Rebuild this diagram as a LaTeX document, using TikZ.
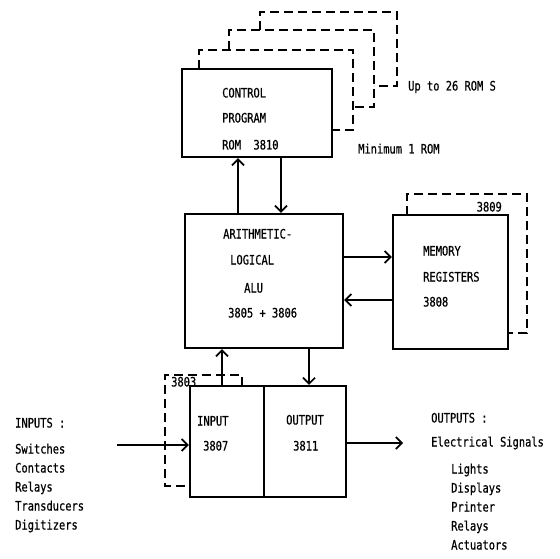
\documentclass[tikz,border=0pt]{standalone}
\usepackage{fontspec}
\setmonofont[FakeStretch=0.8, FakeBold=0.6]{DejaVu Sans Mono}
\usetikzlibrary{arrows.meta}
\tikzset{
  block/.style = {draw, line width = 2.2pt, inner sep = 0pt},
  lbl/.style = {anchor = base west, inner sep = 0pt, font = \ttfamily\fontsize{13}{15}\selectfont},
  arr/.style = {line width = 1.4pt, -{Straight Barb[length = 6pt, width = 12pt, line width = 1.7pt]}},
  copyline/.style = {line width = 1.4pt, dash pattern = on 9pt off 5pt}
}
\begin{document}
\begin{tikzpicture}[x = 1pt, y = -1pt]
                \useasboundingbox (0, 0) rectangle (560, 559);

                % blocks
                \node[block, minimum width = 150pt, minimum height = 88pt] (rom) at (257, 113) {};
                \node[block, minimum width = 158pt, minimum height = 134pt] (alu) at (264, 281) {};
                \node[block, minimum width = 115pt, minimum height = 134pt] (mem) at (450.5, 282) {};
                \node[block, minimum width = 74pt, minimum height = 111pt] (inpart) at (227, 441.5) {};
                \node[block, minimum width = 82pt, minimum height = 111pt] (outpart) at (305, 441.5) {};

                % stacked copies
                \foreach \lx/\ty/\rx/\by/\py/\px in {199/50/353/130/69/332, 229/30/374/107/50/353, 260/12/397/86/30/374}
                    \draw[copyline] (\lx, \py) -- (\lx, \ty) -- (\rx, \ty) -- (\rx, \by) -- (\px, \by);
                \draw[copyline] (407, 215) -- (407, 194) -- (527, 194) -- (527, 333) -- (508, 333);
                \draw[copyline] (242, 386) -- (242, 375) -- (165, 375) -- (165, 486) -- (190, 486);

                % block texts
                \node[lbl] (romA) at (222, 97.5) {CONTROL};
                \node[lbl] (romB) at (222, 122.5) {PROGRAM};
                \node[lbl] (romC) at (222, 149.5) {ROM~~3810};
                \node[lbl] (aluA) at (223, 238.5) {ARITHMETIC-};
                \node[lbl] (aluB) at (230, 264.5) {LOGICAL};
                \node[lbl] (aluC) at (244, 292.5) {ALU};
                \node[lbl] (aluD) at (228, 317.5) {3805 + 3806};
                \node[lbl] (memA) at (423, 255.5) {MEMORY};
                \node[lbl] (memB) at (423, 281.5) {REGISTERS};
                \node[lbl] (memC) at (423, 306.5) {3808};
                \node[lbl, anchor = base east] (memD) at (502, 211.5) {3809};
                \node[lbl] (ioD) at (171, 386.5) {3803};
                \node[lbl] (inA) at (197, 425.5) {INPUT};
                \node[lbl] (inB) at (203, 450.5) {3807};
                \node[lbl] (outA) at (286, 424.5) {OUTPUT};
                \node[lbl] (outB) at (293, 450.5) {3811};
                \node[lbl] (upto) at (408, 90.5) {Up to 26 ROM S};
                \node[lbl] (minrom) at (358, 153.5) {Minimum 1 ROM};

                % input and output lists
                \node[lbl] (inputs) at (15, 427.5) {INPUTS :};
                \foreach \t [count = \i] in {Switches, Contacts, Relays, Transducers, Digitizers}
                    \node[lbl] (inL\i) at (15, 434.5 + 19 * \i) {\t};
                \node[lbl] (outputs) at (431, 422.5) {OUTPUTS :};
                \node[lbl] (signals) at (431, 446.5) {Electrical Signals};
                \foreach \t [count = \i] in {Lights, Displays, Printer, Relays, Actuators}
                    \node[lbl] (outL\i) at (451, 454.5 + 19 * \i) {\t};

                % connectors
                \coordinate (insrc) at (117, 445);
                \coordinate (outdst) at (403, 443);
                \draw[arr] ([xshift = -26pt]alu.north) to ([xshift = -26pt]alu.north |- rom.south);
                \draw[arr] ([xshift = 17pt]alu.north |- rom.south) to ([xshift = 17pt]alu.north);
                \draw[arr] ([yshift = 24pt]alu.east) to ([yshift = 24pt]alu.east -| mem.west);
                \draw[arr] ([yshift = -19pt]alu.east -| mem.west) to ([yshift = -19pt]alu.east);
                \draw[arr] ([xshift = -5pt]inpart.north) to ([xshift = -5pt]inpart.north |- alu.south);
                \draw[arr] ([xshift = 4pt]outpart.north |- alu.south) to ([xshift = 4pt]outpart.north);
                \draw[arr] (insrc) to (insrc -| inpart.west);
                \draw[arr] (outpart.east |- outdst) to (outdst);
            \end{tikzpicture}
\end{document}
